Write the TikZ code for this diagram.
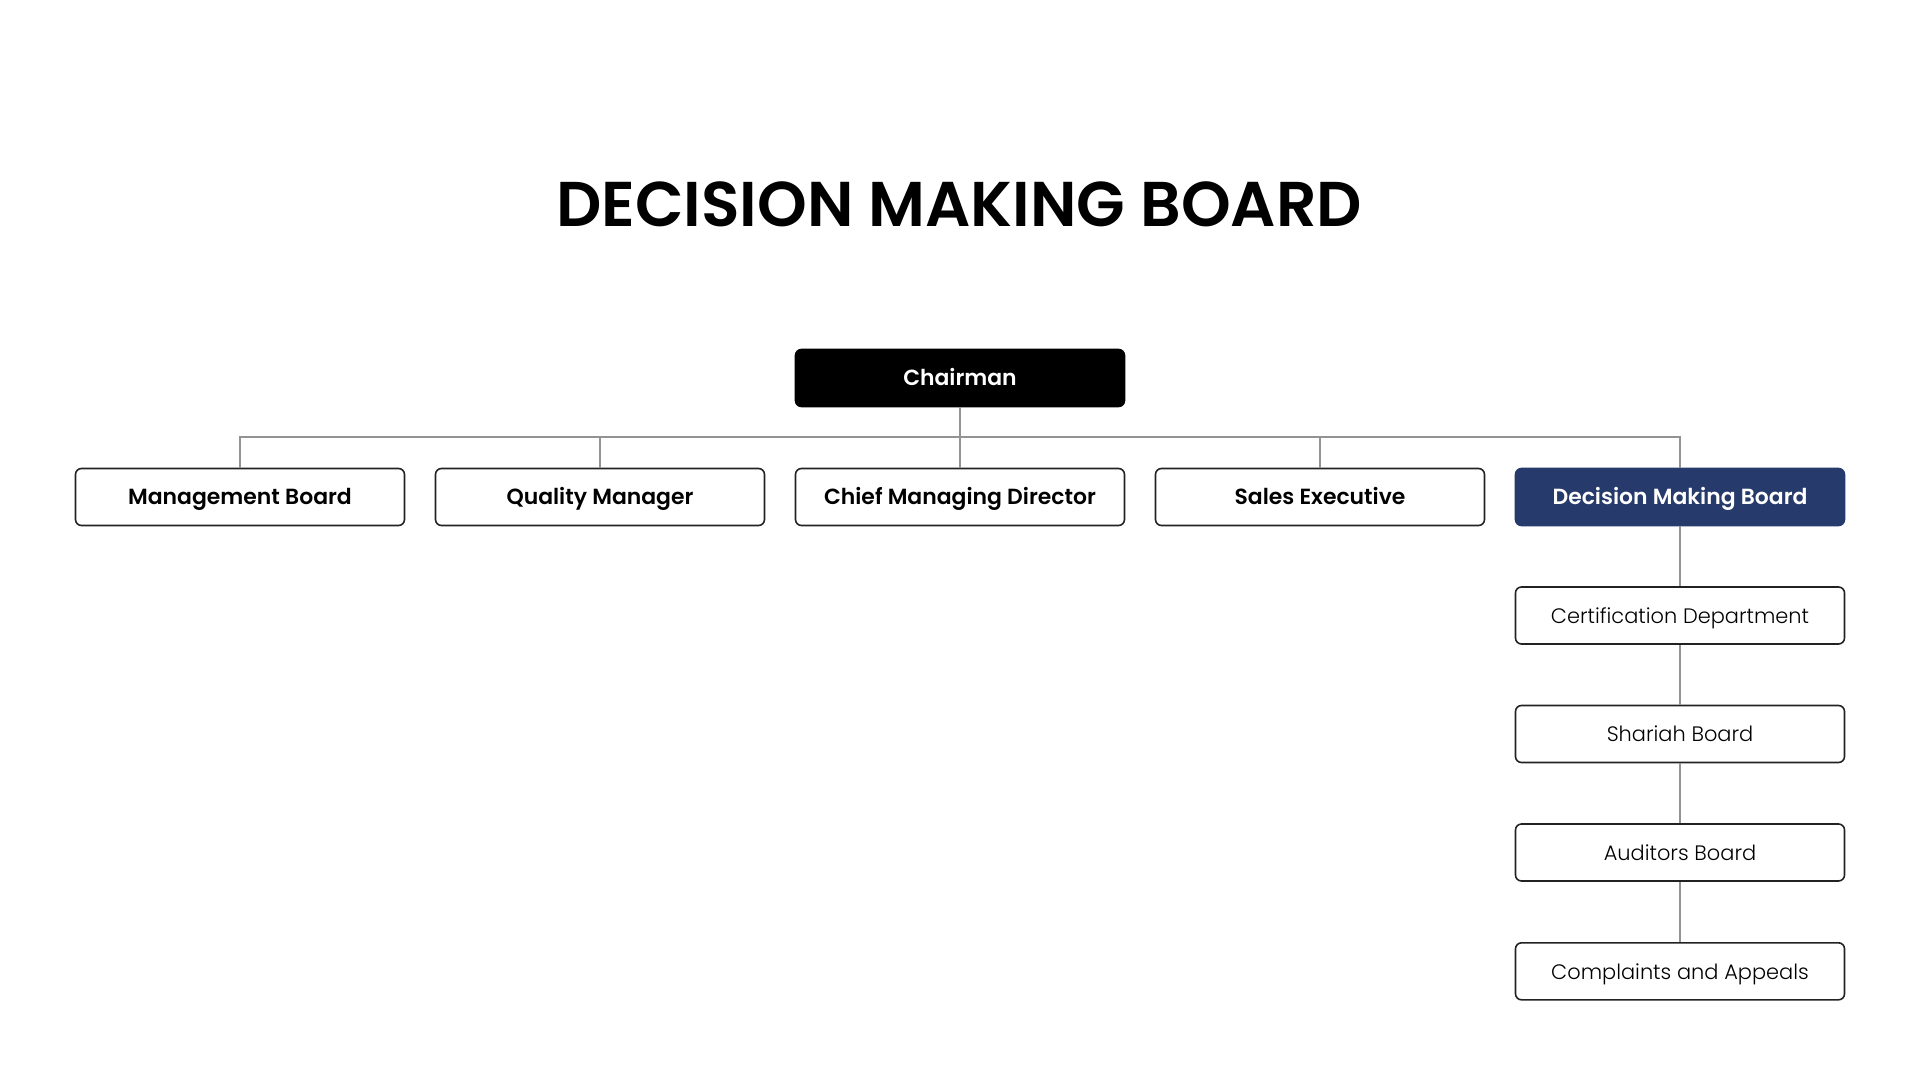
\documentclass[tikz,border=0pt]{standalone}
\usepackage{fontspec}
\setmainfont{Poppins}
\newfontfamily\lightfont{Poppins Light}
\newfontfamily\semifont{Poppins SemiBold}
\definecolor{navy}{HTML}{263A6B}
\definecolor{conngray}{HTML}{939393}
\definecolor{edge}{HTML}{222222}
\begin{document}
\begin{tikzpicture}[x=1bp,y=-1bp,
  box/.style={draw=edge,line width=1.6bp,rounded corners=6bp,fill=white,
    minimum width=329bp,minimum height=57bp,inner sep=0pt,align=center,
    text height=15.5bp,text depth=0bp},
  boldbox/.style={box,font=\semifont\fontsize{22}{24}\selectfont},
  lightbox/.style={box,font=\lightfont\fontsize{21}{24}\selectfont},
  conn/.style={draw=conngray,line width=2.2bp}]
\fill[white] (0,0) rectangle (1920,1080);
\useasboundingbox (0,0) rectangle (1920,1080);
\node[font=\semifont\fontsize{63.5}{70}\selectfont] (title) at (959,204) {DECISION MAKING BOARD};
\node[boldbox,fill=black,draw=black,text=white] (chair) at (960,378) {Chairman};
\node[boldbox] (mb) at (240,497) {Management Board};
\node[boldbox] (qm) at (600,497) {Quality Manager};
\node[boldbox] (cmd) at (960,497) {Chief Managing Director};
\node[boldbox] (se) at (1320,497) {Sales Executive};
\node[boldbox,fill=navy,draw=navy,text=white] (dmb) at (1680,497) {Decision Making Board};
\node[lightbox] (cert) at (1680,615.5) {Certification Department};
\node[lightbox] (shb) at (1680,734) {Shariah Board};
\node[lightbox] (aud) at (1680,852.5) {Auditors Board};
\node[lightbox] (cap) at (1680,971.3) {Complaints and Appeals};
\coordinate (bus) at (960,437);
\draw[conn] (chair.south) -- (bus);
\foreach \n in {mb,qm,cmd,se,dmb} \draw[conn] (bus) -| (\n.north);
\draw[conn] (dmb.south) -- (cert.north);
\draw[conn] (cert.south) -- (shb.north);
\draw[conn] (shb.south) -- (aud.north);
\draw[conn] (aud.south) -- (cap.north);
\end{tikzpicture}
\end{document}
